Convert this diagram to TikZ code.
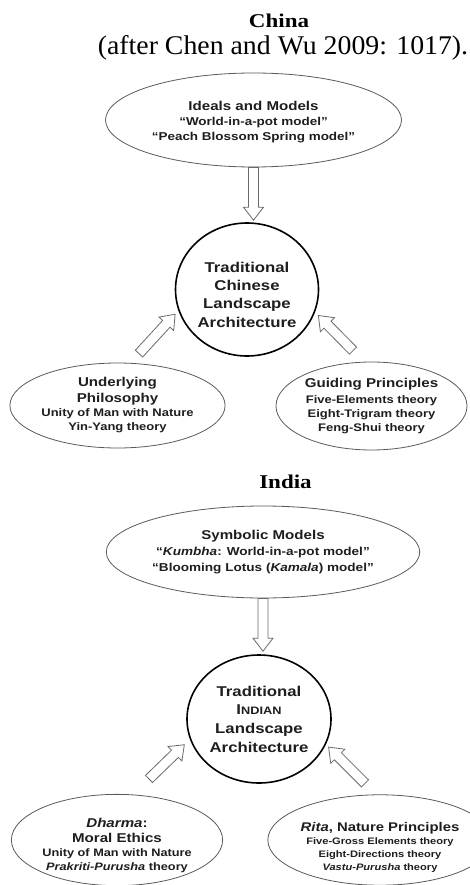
\documentclass[tikz,border=0pt]{standalone}
\usepackage{fontspec}
\setmainfont{Liberation Serif}
\newfontfamily\sw[FakeStretch=1.18]{Liberation Sans}
\newfontfamily\tw[FakeStretch=1.18]{Liberation Serif}
\newfontfamily\tws[FakeStretch=1.03]{Liberation Serif}
\usetikzlibrary{shapes.geometric,calc}
\definecolor{txt}{HTML}{1E1E1E}
\definecolor{elgray}{HTML}{5A5A5A}
\definecolor{argray}{HTML}{6A6A6A}
\newcommand\fs[2]{\fontsize{#1}{#2}\selectfont}
\newcommand\hd{\fontsize{12.8}{14}\selectfont}
\newcommand\fatarrow[2]{%
  \coordinate (fa-h) at ($(#2)!13pt!(#1)$);
  \draw[fat] ($(#1)!5pt!90:(#2)$) -- ($(fa-h)!5pt!90:(#2)$) -- ($(fa-h)!10pt!90:(#2)$) -- (#2)
     -- ($(fa-h)!10pt!-90:(#2)$) -- ($(fa-h)!5pt!-90:(#2)$) -- ($(#1)!5pt!-90:(#2)$) -- cycle;}
\tikzset{
  ell/.style={ellipse, draw=elgray, line width=0.8pt, inner sep=0pt, align=center, text=txt,
              font=\sw\bfseries\fs{11}{14}},
  circ/.style={ellipse, draw=black, line width=1.6pt, inner sep=0pt, align=center, text=txt,
              font=\sw\bfseries\fs{14.2}{18.4}},
  title/.style={anchor=base, inner sep=0pt, text=black, font=\tw\bfseries\fs{19.5}{22}},
  fat/.style={draw=argray, line width=0.8pt, fill=white, line join=miter}
}
\begin{document}
\begin{tikzpicture}[x=1pt,y=-1pt]
\fill[white] (0,0) rectangle (469,885);
\useasboundingbox (0,0) rectangle (469,885);

% ---------- China ----------
\node[title] (tchina) at (279,28) {China};
\node[anchor=base, inner sep=0pt, text=black, font=\tws\fs{27}{30}] (tsub) at (283,55) {(after Chen and Wu 2009: 1017).};

\node[ell, minimum width=296pt, minimum height=94pt, font=\sw\bfseries\fs{11.4}{14.5}] (ctop) at (253.5,120)
  {\rule{0pt}{13pt}{\hd Ideals and Models}\\[0.5pt]“World-in-a-pot model”\\“Peach Blossom Spring model”};
\node[circ, minimum width=143pt, minimum height=133pt] (ccirc) at (247,289.5)
  {\rule{0pt}{20.4pt}Traditional\\Chinese\\Landscape\\Architecture};
\node[ell, minimum width=201pt, minimum height=85pt] (cleft) at (117.5,405.5)
  {{\hd Underlying}\\[2pt]{\hd Philosophy}\\Unity of Man with Nature\\Yin-Yang theory};
\node[ell, minimum width=191pt, minimum height=88pt] (cright) at (371.5,406)
  {{\hd Guiding Principles}\\[2pt]Five-Elements theory\\Eight-Trigram theory\\Feng-Shui theory};

\coordinate (c1s) at (ctop.south);
\coordinate (c1e) at ($(ctop.south |- ccirc.north)+(0,-2)$);
\coordinate (c2s) at ($(cleft.north)+(21.5,-9)$);
\coordinate (c2e) at ($(ccirc.center)!1.06!(ccirc.199)$);
\coordinate (c3s) at ($(cright.north)+(-18.5,-11)$);
\coordinate (c3e) at ($(ccirc.center)!1.06!(ccirc.340)$);
\fatarrow{c1s}{c1e}
\fatarrow{c2s}{c2e}
\fatarrow{c3s}{c3e}

% ---------- India ----------
\node[title] (tindia) at (285.5,488) {India};

\node[ell, minimum width=293pt, minimum height=92pt, font=\sw\bfseries\fs{11.5}{16}] (itop) at (263,552)
  {{\hd Symbolic Models}\\“\textit{Kumbha}: World-in-a-pot model”\\“Blooming Lotus (\textit{Kamala}) model”};
\node[circ, minimum width=144pt, minimum height=128pt, font=\sw\bfseries\fs{14.2}{18.7}] (icirc) at (259,719)
  {Traditional\\I{\fs{10.8}{18.7}NDIAN}\\Landscape\\Architecture};
\node[ell, minimum width=192pt, minimum height=86pt, font=\sw\bfseries\fs{10.8}{14}] (ileft) at (117,840)
  {\rule{0pt}{19.3pt}{\hd\textit{Dharma}:}\\[1pt]{\hd Moral Ethics}\\Unity of Man with Nature\\\textit{Prakriti-Purusha} theory};
\node[ell, minimum width=172pt, minimum height=90pt, font=\sw\bfseries\fs{9.4}{13}] (iright) at (380,840)
  {\rule{0pt}{23pt}{\fontsize{12.6}{13}\selectfont\textit{Rita}, Nature Principles}\\Five-Gross Elements theory\\Eight-Directions theory\\\textit{Vastu-Purusha} theory};

\coordinate (i1s) at (itop.south);
\coordinate (i1e) at ($(itop.south |- icirc.north)+(0,-3)$);
\coordinate (i2s) at ($(ileft.north)+(32,-15)$);
\coordinate (i2e) at ($(icirc.center)!1.1!(icirc.199)$);
\coordinate (i3s) at ($(iright.north)+(-15,-11)$);
\coordinate (i3e) at ($(icirc.center)!1.05!(icirc.338)$);
\fatarrow{i1s}{i1e}
\fatarrow{i2s}{i2e}
\fatarrow{i3s}{i3e}
\end{tikzpicture}
\end{document}
